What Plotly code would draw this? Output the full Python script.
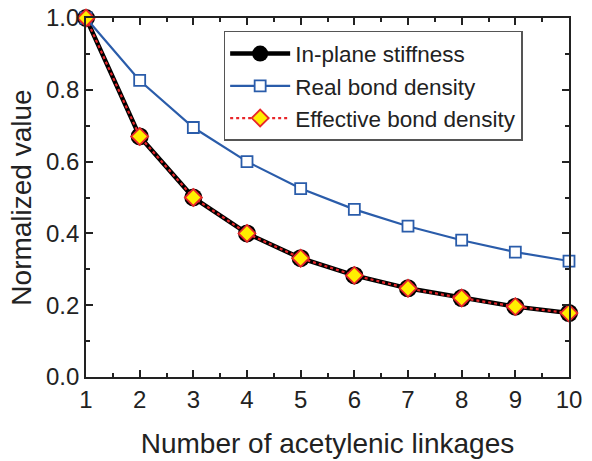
import plotly.graph_objects as go

x = [1, 2, 3, 4, 5, 6, 7, 8, 9, 10]
stiffness = [1.0, 0.670, 0.500, 0.400, 0.331, 0.283, 0.247, 0.220, 0.196, 0.178]
real_density = [1.0, 0.826, 0.695, 0.600, 0.525, 0.467, 0.420, 0.381, 0.348, 0.323]
effective_density = [1.0, 0.670, 0.500, 0.400, 0.331, 0.283, 0.247, 0.220, 0.196, 0.178]

fig = go.Figure()
fig.add_trace(go.Scatter(
    x=x, y=stiffness, name="In-plane stiffness", mode="lines+markers",
    line=dict(color="black", width=4.5),
    marker=dict(symbol="circle", size=18, color="black"),
    cliponaxis=False))
fig.add_trace(go.Scatter(
    x=x, y=real_density, name="Real bond density", mode="lines+markers",
    line=dict(color="#2a5caa", width=2.2),
    marker=dict(symbol="square", size=11, color="white", line=dict(color="#2a5caa", width=1.8)),
    cliponaxis=False))
fig.add_trace(go.Scatter(
    x=x, y=effective_density, name="Effective bond density", mode="lines+markers",
    line=dict(color="#e8262a", width=2.2, dash="dot"),
    marker=dict(symbol="diamond", size=13, color="#ffee00", line=dict(color="#e8262a", width=1.8)),
    cliponaxis=False))

font = "Liberation Sans, Arial, sans-serif"
fig.update_layout(
    width=592, height=461,
    margin=dict(l=86, r=23, t=18, b=84),
    paper_bgcolor="white", plot_bgcolor="white",
    font=dict(family=font, color="#222222"),
    showlegend=True,
    legend=dict(x=0.285, y=0.964, xanchor="left", yanchor="top",
                bordercolor="#555555", borderwidth=1.5, bgcolor="white",
                font=dict(size=22.5, family=font), tracegroupgap=0, itemwidth=60),
)
fig.update_xaxes(
    range=[1, 10], tickmode="linear", tick0=1, dtick=1, automargin=False,
    ticklabeloverflow="allow",
    ticks="inside", ticklen=7, tickwidth=1.8, tickcolor="#222222",
    minor=dict(ticks="inside", ticklen=4, dtick=0.5, tick0=1, tickcolor="#222222", tickwidth=1.8),
    showline=True, linecolor="#222222", linewidth=1.8, mirror="ticks",
    showgrid=False, zeroline=False,
    tickfont=dict(size=24, family=font),
    title=dict(text="Number of acetylenic linkages", font=dict(size=28, family=font), standoff=22),
)
fig.update_yaxes(
    range=[0, 1], tickmode="linear", tick0=0, dtick=0.2, tickformat=".1f", automargin=False,
    ticklabeloverflow="allow",
    ticks="inside", ticklen=7, tickwidth=1.8, tickcolor="#222222",
    minor=dict(ticks="inside", ticklen=4, dtick=0.1, tickcolor="#222222", tickwidth=1.8),
    showline=True, linecolor="#222222", linewidth=1.8, mirror="ticks",
    showgrid=False, zeroline=False,
    tickfont=dict(size=24, family=font),
    title=dict(text="Normalized value", font=dict(size=28, family=font), standoff=6),
)
fig.write_html("out.html", config={"displayModeBar": False},
               post_script="document.body.style.margin='0';")
